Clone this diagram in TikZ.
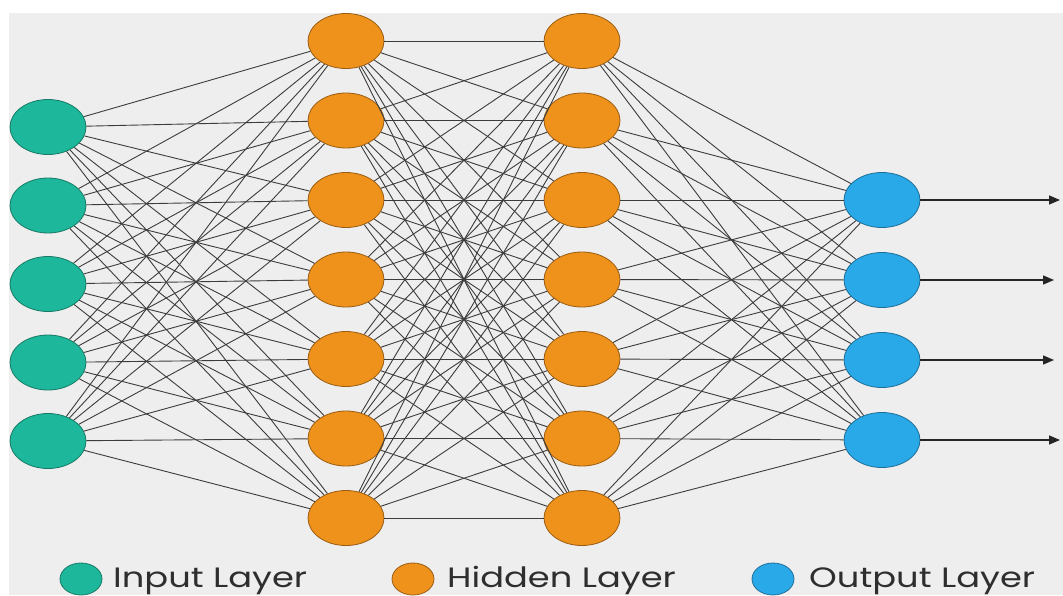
\documentclass[tikz,border=0pt]{standalone}
\usepackage{fontspec}
\setmainfont{Poppins}
\usetikzlibrary{shapes.geometric,arrows.meta}
\definecolor{bgc}{HTML}{EEEEEE}
\definecolor{inpc}{HTML}{1DB89B}
\definecolor{inpd}{HTML}{177A66}
\definecolor{hidc}{HTML}{EE921B}
\definecolor{hidd}{HTML}{9A5C12}
\definecolor{outc}{HTML}{2AA9E8}
\definecolor{outd}{HTML}{1E6E9A}
\definecolor{edgec}{HTML}{3C3C3C}
\definecolor{txtc}{HTML}{2E2E2E}
\newcommand{\legwide}[1]{\scalebox{1.26}[1]{#1}}
\tikzset{
  neuron/.style={ellipse, minimum width=76pt, minimum height=55pt, inner sep=0pt, line width=0.8pt},
  inp/.style={neuron, fill=inpc, draw=inpd},
  hid/.style={neuron, fill=hidc, draw=hidd},
  outn/.style={neuron, fill=outc, draw=outd},
  legdot/.style={ellipse, minimum width=42pt, minimum height=32pt, inner sep=0pt, line width=0.8pt},
  edge/.style={draw=edgec, line width=0.9pt},
  outarrow/.style={draw=black!85, line width=1.3pt, -{Triangle[length=11pt,width=9pt]}},
  legtext/.style={anchor=base west, inner sep=0pt, text=txtc, font=\fontsize{28}{30}\selectfont}
}
\begin{document}
\begin{tikzpicture}[x=1pt,y=-1pt]
\useasboundingbox (0,0) rectangle (1063,595);
\fill[white] (0,0) rectangle (1063,595);
\fill[bgc] (9,13) rectangle (1063,595);
% nodes
\foreach \k in {1,...,5} \node[inp] (i\k) at (48,{127+78.5*(\k-1)}) {};
\foreach \k in {1,...,7} \node[hid] (a\k) at (346,{41+79.5*(\k-1)}) {};
\foreach \k in {1,...,7} \node[hid] (b\k) at (582,{41+79.5*(\k-1)}) {};
\foreach \k in {1,...,4} \node[outn] (o\k) at (882,{200+80*(\k-1)}) {};
% edges
\foreach \p in {1,...,5} \foreach \q in {1,...,7} \draw[edge] (i\p) -- (a\q);
\foreach \p in {1,...,7} \foreach \q in {1,...,7} \draw[edge] (a\p) -- (b\q);
\foreach \p in {1,...,7} \foreach \q in {1,...,4} \draw[edge] (b\p) -- (o\q);
% outputs
\coordinate (e1) at (1060,200);
\coordinate (e2) at (1054,280);
\coordinate (e3) at (1054,360);
\coordinate (e4) at (1060,440);
\foreach \k in {1,...,4} \draw[outarrow] (o\k.east) -- (e\k);
% legend
\node[legdot, fill=inpc, draw=inpd] (l1) at (81,579) {};
\node[legtext] (t1) at (113,587) {\legwide{Input Layer}};
\node[legdot, fill=hidc, draw=hidd] (l2) at (413,579) {};
\node[legtext] (t2) at (447,587) {\legwide{Hidden Layer}};
\node[legdot, fill=outc, draw=outd] (l3) at (773,579) {};
\node[legtext] (t3) at (809,587) {\legwide{Output Layer}};
\end{tikzpicture}
\end{document}
